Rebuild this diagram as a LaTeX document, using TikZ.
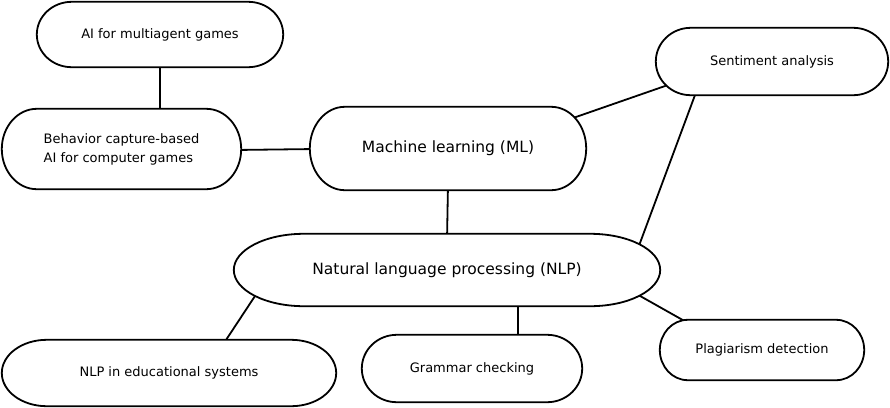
\documentclass[tikz,border=0pt]{standalone}
\usepackage{fontspec}
\setmainfont{DejaVu Sans}
\usetikzlibrary{calc}
\pgfdeclarelayer{linklayer}
\pgfdeclarelayer{shapelayer}
\pgfsetlayers{linklayer,shapelayer,main}
\newcommand\capsuleoutline[2]{%
  \path[capsule] let \p1=(#1.north east), \p2=(#1.south west), \n1={(\y1-\y2)/2} in
    (\x2+#2,\y1) -- (\x1-#2,\y1)
    arc[start angle=90,end angle=-90,x radius=#2,y radius=\n1]
    -- (\x2+#2,\y2)
    arc[start angle=270,end angle=90,x radius=#2,y radius=\n1] -- cycle;}
\begin{document}
\begin{tikzpicture}[x=1pt,y=-1pt,
  box/.style={inner sep=0pt,draw=none},
  small/.style={font=\fontsize{13}{19}\selectfont},
  big/.style={font=\fontsize{15.5}{19}\selectfont},
  capsule/.style={draw=black,line width=1.8pt,fill=white},
  link/.style={draw=black,line width=1.8pt}]
\useasboundingbox (0,0) rectangle (890,407);

\node[box,small,minimum width=246pt,minimum height=65pt] (multi) at (160,34.5) {AI for multiagent games};
\node[box,small,minimum width=239pt,minimum height=80pt,align=left] (beh) at (121.5,149) {Behavior capture-based\\AI for computer games};
\node[box,big,minimum width=276pt,minimum height=83pt] (ml) at (448,148.5) {Machine learning (ML)};
\node[box,small,minimum width=232pt,minimum height=67pt] (sent) at (772,61.5) {Sentiment analysis};
\node[box,big,minimum width=426pt,minimum height=72pt] (nlp) at (447,270) {Natural language processing (NLP)};
\node[box,small,minimum width=334pt,minimum height=66pt] (edu) at (169,373) {NLP in educational systems};
\node[box,small,minimum width=220pt,minimum height=67pt] (gram) at (472,368.5) {Grammar checking};
\node[box,small,minimum width=204pt,minimum height=60pt] (plag) at (762,350) {Plagiarism detection};

\begin{pgfonlayer}{shapelayer}
\capsuleoutline{multi}{35pt}
\capsuleoutline{beh}{35pt}
\capsuleoutline{ml}{35pt}
\capsuleoutline{sent}{35pt}
\capsuleoutline{nlp}{70pt}
\capsuleoutline{edu}{45pt}
\capsuleoutline{gram}{35pt}
\capsuleoutline{plag}{28pt}
\end{pgfonlayer}

\begin{pgfonlayer}{linklayer}
\draw[link] ($(multi.center)+(0,25.5)$) -- ($(beh.center)+(38.5,-34)$);
\draw[link] ($(beh.center)+(113.5,1)$) -- ($(ml.center)+(-132,0.5)$);
\draw[link] ($(ml.center)+(119.3,-28.5)$) -- ($(sent.center)+(-98.3,21.5)$);
\draw[link] ($(sent.center)+(-74.9,27.9)$) -- ($(nlp.center)+(190.9,-21.4)$);
\draw[link] ($(ml.center)+(0,35.5)$) -- ($(nlp.center)+(0,-30)$);
\draw[link] ($(nlp.center)+(-188.7,21)$) -- ($(edu.center)+(53.7,-28)$);
\draw[link] ($(nlp.center)+(71,30)$) -- ($(gram.center)+(46,-27.5)$);
\draw[link] ($(nlp.center)+(187.8,23)$) -- ($(plag.center)+(-59.8,-19)$);
\end{pgfonlayer}
\end{tikzpicture}
\end{document}
